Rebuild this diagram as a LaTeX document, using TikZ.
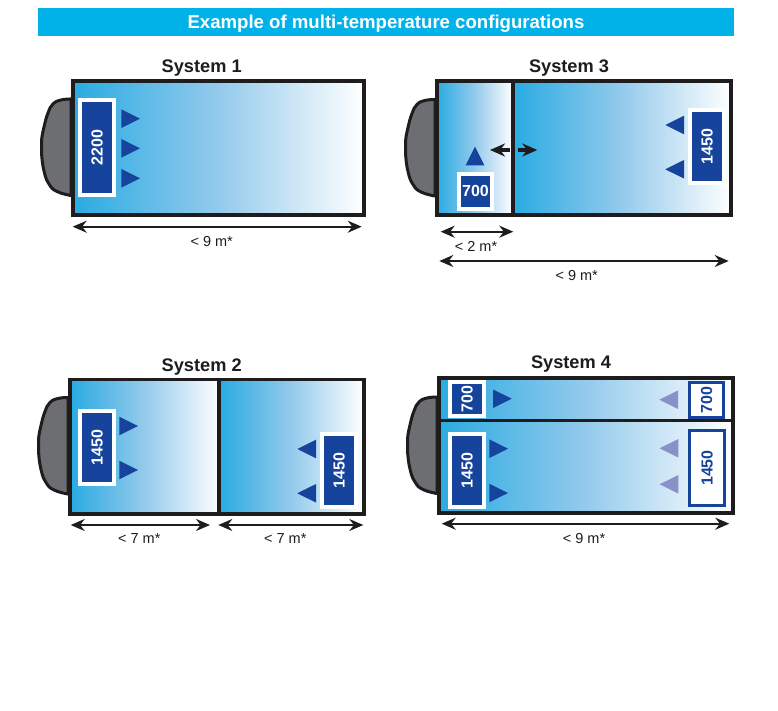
\documentclass[tikz,border=0pt]{standalone}
\usepackage{fontspec}
\setmainfont{Liberation Sans}
\usetikzlibrary{
    arrows.meta
    }
\definecolor{header}{RGB}{0,178,232}
\definecolor{coldstart}{RGB}{41,171,226}
\definecolor{coldmid}{RGB}{148,202,236}
\definecolor{unitblue}{RGB}{22,67,155}
\definecolor{ventlight}{RGB}{138,144,200}
\definecolor{wall}{RGB}{30,28,28}
\definecolor{cabgray}{RGB}{109,110,113}

\begin{document}
\begin{tikzpicture}[x=1pt, y=-1pt]
\tikzset{compartment/.style =
        {
            line width=3.6pt,
            draw=wall,
            left color=coldstart,
            right color=white,
            middle color=coldmid
        }
}

\tikzset{unit/.style =
        {
            rectangle,
            rotate=90,
            line width=4pt,
            draw=white,
            fill=unitblue,
            text=white,
            inner sep=0pt,
            minimum height=34pt,
            font=\fontsize{16}{16}\selectfont\bfseries
        }
}

\tikzset{rear unit/.style =
        {
            unit,
            line width=3pt,
            draw=unitblue,
            fill=white,
            text=unitblue
        }
}

\tikzset{title/.style =
        {
            text=wall,
            inner sep=0pt,
            font=\fontsize{18.2}{19}\selectfont\bfseries
        }
}

\tikzset{size/.style =
        {
            text=wall,
            inner sep=0pt,
            font=\fontsize{14.5}{15}\selectfont
        }
}

\tikzset{dim/.style =
        {
            line width=1.9pt,
            draw=wall,
            {Stealth[length=14pt, width=12pt]}-{Stealth[length=14pt, width=12pt]}
        }
}

\tikzset{door/.style =
        {
            line width=3.4pt,
            draw=wall,
            -{Stealth[length=15pt, width=13pt]}
        }
}

\tikzset{cab/.pic = {
            \draw [line width=3pt, draw=wall, fill=cabgray] plot [smooth, tension=0.8] coordinates
            {(0,-48) (-10,-47) (-18,-43) (-23,-34) (-27,-20) (-29.5,-6) (-29.5,6) (-27,24) (-22,37) (-14,44.5) (0,48.5)} -- cycle;
        }
}

\tikzset{vent/.pic = {
            \fill [#1] (0,-9.3) -- (18.7,0) -- (0,9.3) -- cycle;
        }
}

		\node[fill=header, minimum width=696pt, minimum height=28pt, inner sep=0pt] at (386,22) (banner) {};
		\node[text=white, inner sep=0pt, font=\fontsize{18.6}{19}\selectfont\bfseries] at (386,23.5) (banner-lab) {Example of multi-temperature configurations};

		\foreach \name / \x / \y in {s1/71/147, s2/68/445.5, s3/435/147.5, s4/437/445}
		\pic at (\x,\y) {cab};

		\foreach \xa / \ya / \xb / \yb in
			{73/81/364/215,
				70/379.5/219/513.7,
				219/379.5/364/513.7,
				437/81/513/215,
				513/81/731/215,
				439/378/732.7/420.3,
				439/420.3/732.7/513}
		\draw[compartment] (\xa,\ya) rectangle (\xb,\yb);

		\foreach \name / \x / \y / \len / \lab in
			{a/97/147.5/95/2200,
				b/97/447.5/73/1450,
				c/339/470.3/73/1450,
				d/707/146.7/73/1450,
				e/467/399/34/700,
				f/467/470.5/73/1450}
		\node[unit, minimum width=\len pt] at (\x,\y) (unit-\name) {\lab};

		\node[unit, rotate=-90, minimum width=33pt, minimum height=35pt] at (475.5,191.4) (unit-g) {700};
		\node[rear unit, minimum width=35pt] at (706.5,400) (unit-h) {700};
		\node[rear unit, minimum width=75pt, minimum height=35pt] at (707,468) (unit-i) {1450};

		\foreach \x / \y in {121.3/118.7, 121.3/148.3, 121.3/178.3, 119.3/426, 119.3/470, 493/398.7, 489.3/448.7, 489.3/493}
		\pic at (\x,\y) {vent=unitblue};

		\foreach \x / \y in {316/449, 316/493.3, 684/125, 684/169.3}
		\pic [rotate=180] at (\x,\y) {vent=unitblue};

		\foreach \x / \y in {678/399.7, 678.3/448.3, 678.3/484.3}
		\pic [rotate=180] at (\x,\y) {vent=ventlight};

		\pic [rotate=90] at (475,165.3) {vent=unitblue};

		\foreach \name / \x / \y / \lab in
			{one/201.7/68.5/System 1,
				two/201.7/367/System 2,
				three/569/68.5/System 3,
				four/571/364.5/System 4}
		\node[title] at (\x,\y) (title-\name) {\lab};

		\foreach \name / \xa / \xb / \y / \xt / \yt / \lab in
			{p/72.7/361.7/226.7/211.7/241.7/{< 9 m*},
				q/70.7/210/525/139.3/538.3/{< 7 m*},
				r/218.3/363.3/525/285.3/538.3/{< 7 m*},
				s/440.7/513.3/231.7/476/246.7/{< 2 m*},
				t/439.3/728.7/261/576.7/275.7/{< 9 m*},
				u/441.7/729.3/523.7/584/538.3/{< 9 m*}}
			{
				\coordinate (\name-l) at (\xa,\y);
				\coordinate (\name-r) at (\xb,\y);
				\draw [dim] (\name-l) -- (\name-r);
				\node[size] at (\xt,\yt) (\name-lab) {\lab};
			}

		\coordinate (door-a) at (510,150);
		\coordinate (door-b) at (490,150);
		\coordinate (door-c) at (518,150);
		\coordinate (door-d) at (537.3,150);
		\draw [door] (door-a) -- (door-b);
		\draw [door] (door-c) -- (door-d);

		\useasboundingbox (0,0) rectangle (778,711);
	\end{tikzpicture}
\end{document}
